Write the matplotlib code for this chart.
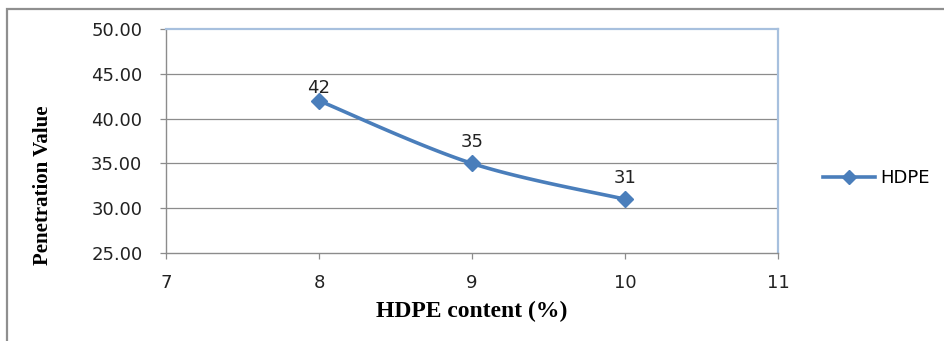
import numpy as np
import matplotlib
matplotlib.use('Agg')
from matplotlib import pyplot as plt
from matplotlib.patches import Rectangle

# HDPE content vs penetration
hdpe_content = [8, 9, 10]
penetration = [42, 35, 31]
series_name = 'HDPE'
x_ticks = [7, 8, 9, 10, 11]
y_ticks = [25, 30, 35, 40, 45, 50]

blue = '#4A7EBB'
grid_gray = '#8C8C8C'
frame_blue = '#A7C0DE'


def smooth(xs, ys, n=40):
    # catmull-rom through the points, ends duplicated (like a smoothed office line)
    px = [xs[0]] + list(xs) + [xs[-1]]
    py = [ys[0]] + list(ys) + [ys[-1]]
    outx, outy = [], []
    t = np.linspace(0, 1, n)
    for i in range(1, len(px) - 2):
        p0, p1, p2, p3 = [np.array([px[j], py[j]], dtype=float) for j in range(i - 1, i + 3)]
        c1 = p1 + (p2 - p0) / 6.0
        c2 = p2 - (p3 - p1) / 6.0
        b = ((1 - t) ** 3)[:, None] * p1 + (3 * (1 - t) ** 2 * t)[:, None] * c1 \
            + (3 * (1 - t) * t ** 2)[:, None] * c2 + (t ** 3)[:, None] * p2
        outx.extend(b[:, 0])
        outy.extend(b[:, 1])
    return outx, outy


fig = plt.figure(figsize=(9.45, 3.41), dpi=100)
ax = fig.add_axes([166 / 945, 1 - 253 / 341, (778 - 166) / 945, (253 - 29) / 341])

# outer chart frame
fig.patches.append(Rectangle((7 / 945, -0.2), 1.2, 1.2 - 9 / 341,
                             transform=fig.transFigure, fill=False,
                             edgecolor='#8F8F8F', linewidth=1.6, zorder=0))

sx, sy = smooth(hdpe_content, penetration)
ax.plot(sx, sy, color=blue, linewidth=2.6, solid_capstyle='round', zorder=3)
ax.plot(hdpe_content, penetration, linestyle='none', marker='D', markersize=8,
        color=blue, zorder=4)
# legend proxy
ax.plot([], [], color=blue, linewidth=2.6, marker='D', markersize=7, label=series_name)

label_offsets = [4, 12, 12]
for x, y, off in zip(hdpe_content, penetration, label_offsets):
    ax.annotate(str(y), (x, y), xytext=(0, off), textcoords='offset pixels',
                ha='center', va='bottom', fontsize=13, color='#222222')

ax.set_xlim(x_ticks[0], x_ticks[-1])
ax.set_ylim(y_ticks[0], y_ticks[-1])
ax.set_xticks(x_ticks)
ax.set_yticks(y_ticks)
ax.set_yticklabels(['%.2f' % v for v in y_ticks])

for v in y_ticks[1:-1]:
    ax.axhline(v, color=grid_gray, linewidth=0.9, zorder=1)

ax.spines['left'].set_color(grid_gray)
ax.spines['bottom'].set_color(grid_gray)
ax.spines['top'].set_color(frame_blue)
ax.spines['right'].set_color(frame_blue)
for s in ax.spines.values():
    s.set_linewidth(1.0)
ax.spines['top'].set_linewidth(1.6)
ax.spines['right'].set_linewidth(1.6)

ax.tick_params(axis='both', direction='out', length=4, width=0.9, color=grid_gray,
               labelsize=13, labelcolor='#222222')
ax.tick_params(axis='y', pad=13)
ax.tick_params(axis='x', pad=11)

ax.set_xlabel('HDPE content (%)', family='Liberation Serif', fontweight='bold',
              fontsize=17)
ax.set_ylabel('Penetration Value', family='Liberation Serif', fontweight='bold',
              fontsize=15)
ax.xaxis.set_label_coords(0.5, (253 - 301) / 224)
ax.yaxis.set_label_coords((53 - 166) / 612, (253 - 185) / 224)

fig.legend(loc='center left', bbox_to_anchor=(823 / 945, 1 - 178 / 341),
           frameon=False, fontsize=13, handlelength=2.9, handletextpad=0.25,
           borderaxespad=0, borderpad=0)

fig.savefig('out.png', dpi=100)
